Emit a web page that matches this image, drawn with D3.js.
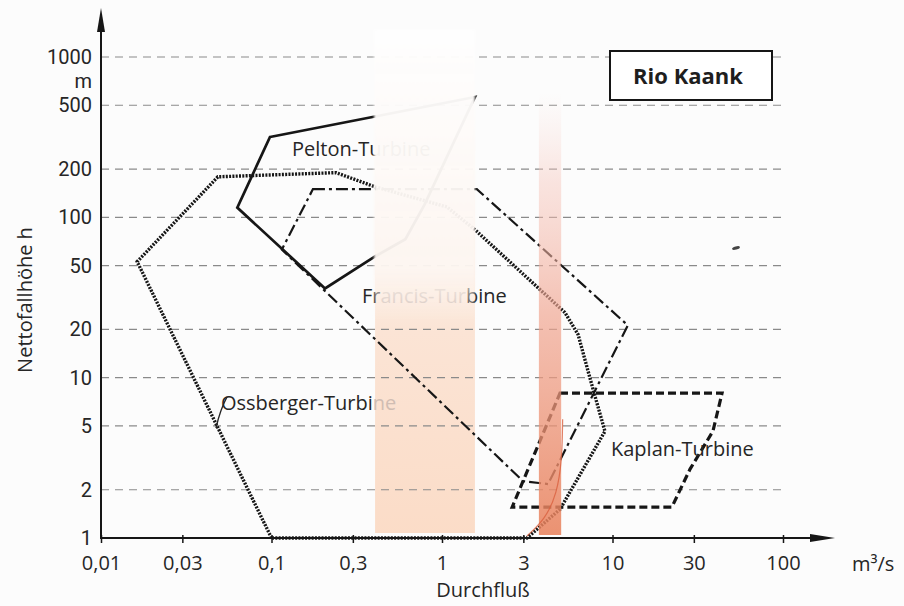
<!DOCTYPE html>
<html>
<head>
<meta charset="utf-8">
<script src="https://cdn.jsdelivr.net/npm/d3@7"></script>
<style>
  body { margin: 0; background: #fcfcfc; }
  svg { display: block; font-family: "Open Sans", "Noto Sans", sans-serif; }
</style>
</head>
<body>
<svg id="chart" width="904" height="606"></svg>
<script>
// Flow axis (m³/s) and head axis (m), both logarithmic
const flowTicks = [0.01, 0.03, 0.1, 0.3, 1, 3, 10, 30, 100];
const flowTickLabels = ["0,01", "0,03", "0,1", "0,3", "1", "3", "10", "30", "100"];
const headTicks = [1, 2, 5, 10, 20, 50, 100, 200, 500, 1000];
const headTickLabels = ["1", "2", "5", "10", "20", "50", "100", "200", "500", "1000"];
const headUnit = "m";

// Operating envelopes of the turbine types: [flow Q, head h]
const pelton = [[0.098, 317], [1.56, 563], [0.79, 120], [0.61, 73], [0.405, 57], [0.206, 36], [0.063, 115]];
const francis = [[0.175, 150], [1.6, 150], [12.3, 21.2], [4.19, 2.17], [2.99, 2.26], [0.115, 62.9]];
const ossberger = [[0.1, 1], [0.0163, 52.9], [0.0485, 179], [0.239, 190], [0.405, 155], [1.07, 116],
                   [1.56, 83.7], [5.26, 25.5], [6.28, 18.6], [7.69, 8.46], [9.03, 4.63], [4.92, 1.51], [3.15, 1.0]];
const kaplan = [[4.92, 8.0], [43.9, 8.0], [38.8, 4.63], [28.5, 2.69], [22.3, 1.56], [2.58, 1.56]];

// Flow ranges highlighted as vertical bands [Q from, Q to]
const flowBands = [[0.405, 1.56], [3.7, 5.0]];
// Thin rising curve inside the river band
const riverCurve = [[3.15, 1.03], [4.02, 1.31], [4.72, 1.88], [5.06, 3.1], [5.1, 5.5]];

const svg = d3.select("#chart");
const x = d3.scaleLog().domain([0.01, 100]).range([101, 783]);
const y = d3.scaleLog().domain([1, 1000]).range([538, 57]);
const ink = "#161616";
const textInk = "#262626";
const fontSize = 20;

const defs = svg.append("defs");
function vGrad(id, y1, y2, stops) {
  const g = defs.append("linearGradient").attr("id", id)
    .attr("gradientUnits", "userSpaceOnUse").attr("x1", 0).attr("x2", 0).attr("y1", y1).attr("y2", y2);
  stops.forEach(s => g.append("stop").attr("offset", s[0]).attr("stop-color", s[1]).attr("stop-opacity", s[2]));
}
vGrad("peach", y(700), y(1), [[0, "#ffffff", 0], [0.4, "#fcefe6", 1], [0.55, "#fbe4d5", 1], [1, "#fbdcc7", 1]]);
vGrad("haze", 35, 320, [[0, "#fefefe", 0.97], [0.82, "#fdf6f1", 0.95], [1, "#fdf3ec", 0]]);
vGrad("river", y(600), y(1), [[0, "#f8d6d0", 0], [0.2, "#f6c5bb", 0.45], [0.5, "#f0a48f", 0.68], [1, "#e8805a", 0.86]]);
defs.append("filter").attr("id", "soft").attr("x", "-10%").attr("y", "-10%").attr("width", "120%").attr("height", "120%")
  .append("feGaussianBlur").attr("stdDeviation", 1.2);

// Background
svg.append("rect").attr("width", 904).attr("height", 606).attr("fill", "#fcfcfc");

// Lower flow band (under the lines)
svg.append("rect")
  .attr("x", x(flowBands[0][0])).attr("width", x(flowBands[0][1]) - x(flowBands[0][0]))
  .attr("y", y(700)).attr("height", y(1) - y(700) - 5)
  .attr("fill", "url(#peach)");

// Dashed horizontal grid
svg.append("g").selectAll("line").data(headTicks).join("line")
  .attr("x1", x(0.01)).attr("x2", x(100) + 2)
  .attr("y1", d => y(d)).attr("y2", d => y(d))
  .attr("stroke", "#8a8a8a").attr("stroke-width", 1.2)
  .attr("stroke-dasharray", "8,6")
  .attr("display", d => d === 1 ? "none" : null);

// Turbine envelopes
const line = d3.line().x(d => x(d[0])).y(d => y(d[1])).curve(d3.curveLinearClosed);
const styles = [
  { data: ossberger, w: 3.4, dash: "2,1.3" },
  { data: francis, w: 2.2, dash: "12,4,3,4" },
  { data: kaplan, w: 3.2, dash: "8,4" },
  { data: pelton, w: 2.7, dash: null }
];
svg.append("g").selectAll("path").data(styles).join("path")
  .attr("d", d => line(d.data))
  .attr("fill", "none").attr("stroke", ink)
  .attr("stroke-width", d => d.w)
  .attr("stroke-dasharray", d => d.dash)
  .attr("stroke-linejoin", "miter");

// Turbine names
const labels = svg.append("g").attr("font-size", fontSize).attr("fill", textInk);
labels.append("text").attr("x", 292).attr("y", 156).text("Pelton-Turbine");
const fr = labels.append("text").attr("x", 362).attr("y", 303);
fr.append("tspan").text("Fr");
fr.append("tspan").attr("fill", "#d3c4bc").text("ancis-Tur");
fr.append("tspan").text("bine");
const os = labels.append("text").attr("x", 221).attr("y", 410);
os.append("tspan").text("Ossberger-Turbi");
os.append("tspan").attr("fill", "#d0bdb3").text("ne");
labels.append("text").attr("x", 611).attr("y", 456).text("Kaplan-Turbine");
// leader stroke from the Ossberger label to its envelope
svg.append("path").attr("d", "M227,397 Q220,410 216,428")
  .attr("fill", "none").attr("stroke", textInk).attr("stroke-width", 1.4);

// Glare over the upper part of the first band
svg.append("rect")
  .attr("x", x(flowBands[0][0]) - 1).attr("width", x(flowBands[0][1]) - x(flowBands[0][0]) + 1)
  .attr("y", 30).attr("height", 292)
  .attr("fill", "url(#haze)").attr("filter", "url(#soft)");

// River flow band (drawn over the lines)
svg.append("rect")
  .attr("x", x(flowBands[1][0])).attr("width", x(flowBands[1][1]) - x(flowBands[1][0]))
  .attr("y", y(600)).attr("height", y(1) - y(600) - 3)
  .attr("fill", "url(#river)");
svg.append("path")
  .attr("d", d3.line().x(d => x(d[0])).y(d => y(d[1])).curve(d3.curveBasis)(riverCurve))
  .attr("fill", "none").attr("stroke", "#d9603e").attr("stroke-width", 1.2).attr("opacity", 0.8);

// small smudge mark on the right
svg.append("ellipse").attr("cx", 736).attr("cy", 248).attr("rx", 4).attr("ry", 1.6)
  .attr("transform", "rotate(-15,736,248)").attr("fill", "#444");

// Axes
const xAxis = d3.axisBottom(x).tickValues(flowTicks)
  .tickFormat((d, i) => flowTickLabels[i]).tickSize(6).tickPadding(12);
const gx = svg.append("g").attr("transform", `translate(0,${y(1)})`).call(xAxis);
gx.select(".domain").remove();
gx.selectAll(".tick line").attr("stroke", ink).attr("stroke-width", 1.5).attr("y1", -3).attr("y2", 5);
gx.selectAll(".tick text").attr("font-size", fontSize).attr("fill", textInk)
  .attr("font-family", "'Open Sans', sans-serif");

const yAxis = d3.axisLeft(y).tickValues(headTicks)
  .tickFormat((d, i) => headTickLabels[i]).tickSize(0).tickPadding(9);
const gy = svg.append("g").attr("transform", `translate(${x(0.01)},0)`).call(yAxis);
gy.select(".domain").remove();
gy.selectAll(".tick text").attr("font-size", fontSize).attr("fill", textInk)
  .attr("font-family", "Roboto, 'Open Sans', sans-serif");
// unit placed as a second line under the top head label
gy.selectAll(".tick text").filter(d => d === 1000)
  .each(function () {
    const t = d3.select(this);
    const label = t.text();
    const xPos = t.attr("x");
    t.text(null);
    t.append("tspan").attr("x", xPos).text(label);
    t.append("tspan").attr("x", xPos).attr("dy", "1.2em").text(headUnit);
  });

// axis lines with arrow heads
svg.append("line").attr("x1", x(0.01)).attr("x2", x(0.01)).attr("y1", y(1) + 1).attr("y2", 28)
  .attr("stroke", ink).attr("stroke-width", 2);
svg.append("path").attr("d", `M${x(0.01) - 4},32 L${x(0.01)},8 L${x(0.01) + 4},32 Z`).attr("fill", ink);
svg.append("line").attr("x1", x(0.01) - 1).attr("x2", 815).attr("y1", y(1)).attr("y2", y(1))
  .attr("stroke", ink).attr("stroke-width", 2);
svg.append("path").attr("d", `M810,${y(1) - 4} L835,${y(1)} L810,${y(1) + 4} Z`).attr("fill", ink);

// Axis titles
svg.append("text").attr("x", 483).attr("y", 597).attr("text-anchor", "middle")
  .attr("font-size", fontSize).attr("fill", textInk).text("Durchfluß");
svg.append("text").attr("x", 852).attr("y", 571)
  .attr("font-size", fontSize).attr("fill", textInk).text("m³/s");
svg.append("text").attr("transform", "translate(32,300) rotate(-90)").attr("text-anchor", "middle")
  .attr("font-size", fontSize).attr("fill", textInk).text("Nettofallhöhe h");

// Site label
svg.append("rect").attr("x", 610).attr("y", 51).attr("width", 162).attr("height", 49)
  .attr("fill", "#ffffff").attr("stroke", ink).attr("stroke-width", 2);
svg.append("text").attr("x", 688).attr("y", 84).attr("text-anchor", "middle")
  .attr("font-size", 22).attr("font-weight", "bold").attr("fill", "#1e1e1e").text("Rio Kaank");
</script>
</body>
</html>
